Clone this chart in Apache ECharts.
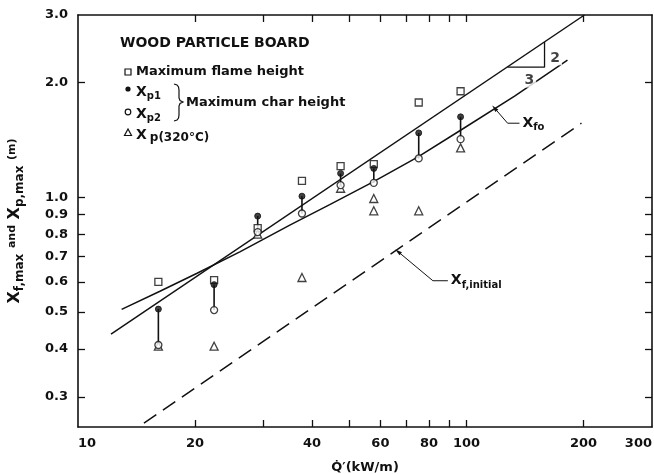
<!DOCTYPE html>
<html><head><meta charset="utf-8">
<script src="https://cdn.jsdelivr.net/npm/echarts@6/dist/echarts.min.js"></script>
<style>html,body{margin:0;padding:0;background:#fff}#c{width:654px;height:474px}</style>
</head><body><div id="c"></div>
<script>
// ---- data ----
const qValues     = [16.1, 22.4, 29.0, 37.7, 47.4, 57.7, 75.3, 96.5];
const flameHeight = [0.60, 0.606, 0.83, 1.103, 1.206, 1.22, 1.77, 1.894];
const xp1         = [0.509, 0.59, 0.892, 1.006, 1.154, 1.189, 1.473, 1.623];
const xp2         = [0.41, 0.506, 0.81, 0.906, 1.075, 1.09, 1.263, 1.419];
const x320Q       = [16.1, 22.4, 29.0, 37.7, 47.4, 57.7, 57.7, 75.3, 96.5];
const x320        = [0.407, 0.407, 0.80, 0.616, 1.055, 0.992, 0.921, 0.921, 1.346];
const fitQ        = [12.16, 201];
const fitX        = [0.438, 3.0];
const xfoQ        = [12.95, 16.25, 20.19, 26.09, 35.08, 44.44, 57.33, 74.82, 96.5, 132.9, 181.8];
const xfoX        = [0.508, 0.567, 0.631, 0.719, 0.845, 0.956, 1.095, 1.273, 1.497, 1.838, 2.284];
const initQ       = [14.78, 197.5];
const initX       = [0.256, 1.562];
const slopeQ      = [127.5, 158.7, 158.7];
const slopeX      = [2.19, 2.19, 2.55];
const xfoLeaderQ  = [118, 127.5, 136.8];
const xfoLeaderX  = [1.711, 1.562, 1.562];
const initLeaderQ = [66.6, 81.9, 89.5];
const initLeaderX = [0.72, 0.604, 0.604];
const noteQ       = [169, 145];
const noteX       = [2.31, 2.02];
const noteText    = ['2', '3'];
const xTickValues  = [20, 30, 40, 50, 60, 70, 80, 90, 100, 200];
const xLabelValues = [10, 20, 40, 60, 80, 100, 200, 300];
const yTickValues  = [0.3, 0.4, 0.5, 0.6, 0.7, 0.8, 0.9, 1.0, 2.0];
const yLabelValues = [0.3, 0.4, 0.5, 0.6, 0.7, 0.8, 0.9, 1.0, 2.0, 3.0];
const xRange = [10, 300];
const yRange = [0.25, 3.0];

const FONT = 'DejaVu Sans';
const INK = '#111';
const zip = (a, b) => a.map((v, i) => [v, b[i]]);
const lg = v => Math.log10(v);

const connectors = [];
qValues.forEach((q, i) => { connectors.push([q, xp1[i]], [q, xp2[i]], [q, '-']); });

const axisLineStyle = { onZero: false, lineStyle: { color: INK, width: 1.6 } };
const xAxisBase = { type: 'log', logBase: 10, min: xRange[0], max: xRange[1], splitLine: { show: false }, axisLine: axisLineStyle, axisTick: { show: false } };
const yAxisBase = { type: 'log', logBase: 10, min: yRange[0], max: yRange[1], splitLine: { show: false }, axisLine: axisLineStyle, axisTick: { show: false } };
// tick-only axes working in log10 space, sharing the same grid
const tickAxis = (pos, range, vals) => ({
  type: 'value', position: pos, min: lg(range[0]), max: lg(range[1]),
  axisLine: { show: false, onZero: false }, splitLine: { show: false }, axisLabel: { show: false },
  axisTick: { show: true, inside: true, length: 7, customValues: vals.map(lg), lineStyle: { color: INK, width: 1.3 } }
});

const sub = { fontFamily: FONT, fontWeight: 'bold', fontSize: 10, color: INK, padding: [9, 0, 0, 0] };
const big = { fontFamily: FONT, fontWeight: 'bold', fontSize: 14, color: INK };
const txt = (x, y, style) => ({ type: 'text', x: x, y: y, style: Object.assign({ verticalAlign: 'middle', align: 'left', fill: INK }, style) });

const chart = echarts.init(document.getElementById('c'), null, { renderer: 'canvas' });
chart.setOption({
  animation: false,
  backgroundColor: '#fff',
  grid: { left: 78, right: 2, top: 15, bottom: 47, containLabel: false, outerBoundsMode: 'none' },
  xAxis: [
    Object.assign({}, xAxisBase, {
      position: 'bottom',
      axisLabel: { show: true, customValues: xLabelValues, margin: 10, formatter: v => String(Math.round(v)),
        alignMinLabel: 'left', alignMaxLabel: 'right',
        fontFamily: FONT, fontWeight: 'bold', fontSize: 13, color: INK },
      name: 'Q\u0307\u2032(kW/m)', nameLocation: 'middle', nameGap: 34,
      nameTextStyle: { fontFamily: FONT, fontWeight: 'bold', fontSize: 13, color: INK }
    }),
    Object.assign({}, xAxisBase, { position: 'top', axisLabel: { show: false } }),
    tickAxis('bottom', xRange, xTickValues),
    tickAxis('top', xRange, xTickValues)
  ],
  yAxis: [
    Object.assign({}, yAxisBase, {
      position: 'left',
      axisLabel: { show: true, customValues: yLabelValues, margin: 10, formatter: v => v.toFixed(1),
        fontFamily: FONT, fontWeight: 'bold', fontSize: 13, color: INK },
      name: 'X{s|f,max} {a|and} X{s|p,max} {a|(m)}', nameLocation: 'middle', nameGap: 52,
      nameTextStyle: { fontFamily: FONT, fontWeight: 'bold', fontSize: 16, color: INK,
        rich: { s: Object.assign({}, sub, { fontSize: 12, padding: [10, 0, 0, 0] }),
                a: { fontFamily: FONT, fontWeight: 'bold', fontSize: 11, color: INK, padding: [0, 0, 5, 0] } } }
    }),
    Object.assign({}, yAxisBase, { position: 'right', axisLabel: { show: false } }),
    tickAxis('left', yRange, yTickValues),
    tickAxis('right', yRange, yTickValues)
  ],
  series: [
    { type: 'line', data: zip(initQ, initX), showSymbol: false, symbol: 'none',
      lineStyle: { color: INK, width: 1.5, type: [15, 8] }, z: 2 },
    { type: 'line', data: zip(fitQ, fitX), showSymbol: false, symbol: 'none',
      lineStyle: { color: INK, width: 1.5 }, z: 2 },
    { type: 'line', data: zip(xfoQ, xfoX), showSymbol: false, symbol: 'none',
      lineStyle: { color: INK, width: 1.5 }, z: 2 },
    { type: 'line', data: zip(slopeQ, slopeX), showSymbol: false, symbol: 'none',
      lineStyle: { color: INK, width: 1.3 }, z: 2 },
    { type: 'line', data: zip(xfoLeaderQ, xfoLeaderX), symbol: (v, p) => p.dataIndex === 0 ? 'triangle' : 'none',
      symbolSize: [4, 7], symbolRotate: 41, showSymbol: true, itemStyle: { color: INK },
      lineStyle: { color: INK, width: 1 }, z: 3,
      endLabel: { show: true, distance: 3, formatter: 'X{s|fo}', fontFamily: FONT, fontWeight: 'bold', fontSize: 14, color: INK,
        rich: { s: sub } } },
    { type: 'line', data: zip(initLeaderQ, initLeaderX), symbol: (v, p) => p.dataIndex === 0 ? 'triangle' : 'none',
      symbolSize: [4, 7], symbolRotate: 51, showSymbol: true, itemStyle: { color: INK },
      lineStyle: { color: INK, width: 1 }, z: 3,
      endLabel: { show: true, distance: 3, formatter: 'X{s|f,initial}', fontFamily: FONT, fontWeight: 'bold', fontSize: 14, color: INK,
        rich: { s: sub } } },
    { type: 'line', data: connectors, showSymbol: false, symbol: 'none', connectNulls: false,
      lineStyle: { color: INK, width: 1.6 }, z: 3 },
    { type: 'scatter', data: zip(qValues, flameHeight), symbol: 'rect', symbolSize: 7,
      itemStyle: { color: '#fff', borderColor: INK, borderWidth: 1.3 }, z: 5 },
    { type: 'scatter', data: zip(x320Q, x320), symbol: 'triangle', symbolSize: 8,
      itemStyle: { color: '#fff', borderColor: INK, borderWidth: 1.3 }, z: 5 },
    { type: 'scatter', data: zip(qValues, xp2), symbol: 'circle', symbolSize: 7,
      itemStyle: { color: '#fff', borderColor: INK, borderWidth: 1.3 }, z: 6 },
    { type: 'scatter', data: zip(qValues, xp1), symbol: 'circle', symbolSize: 6,
      itemStyle: { color: INK, borderColor: INK, borderWidth: 1 }, z: 6 },
    { type: 'scatter', data: noteQ.map((q, i) => ({ value: [q, noteX[i]], name: noteText[i] })), symbolSize: 0,
      label: { show: true, position: 'inside', formatter: p => p.name, fontFamily: FONT, fontWeight: 'bold', fontSize: 14, color: INK,
        backgroundColor: '#fff', padding: [0, 2] }, z: 7 }
  ],
  graphic: [
    txt(120, 43, { text: 'WOOD PARTICLE BOARD', font: 'bold 14px "DejaVu Sans"' }),
    { type: 'rect', shape: { x: 125, y: 69, width: 6, height: 6 }, style: { fill: '#fff', stroke: INK, lineWidth: 1.2 } },
    txt(136, 72, { text: 'Maximum flame height', font: 'bold 13px "DejaVu Sans"' }),
    { type: 'circle', shape: { cx: 128, cy: 89, r: 2.6 }, style: { fill: INK } },
    txt(136, 92, { rich: { b: big, s: sub }, text: '{b|X}{s|p1}' }),
    { type: 'circle', shape: { cx: 128, cy: 112, r: 2.8 }, style: { fill: '#fff', stroke: INK, lineWidth: 1.2 } },
    txt(136, 114, { rich: { b: big, s: sub }, text: '{b|X}{s|p2}' }),
    { type: 'polyline', shape: { points: [[174, 84], [177, 85], [178.5, 87], [179, 90], [179, 98], [180, 100.5], [183, 102], [180, 103.5], [179, 106], [179, 115], [178.5, 118], [177, 120], [174, 121]] },
      style: { fill: null, stroke: INK, lineWidth: 1.2 } },
    txt(186, 103, { text: 'Maximum char height', font: 'bold 13px "DejaVu Sans"' }),
    { type: 'polygon', shape: { points: [[128, 129], [124.5, 135.5], [131.5, 135.5]] }, style: { fill: '#fff', stroke: INK, lineWidth: 1.2 } },
    txt(136, 135, { rich: { b: big, s: Object.assign({}, sub, { fontSize: 12, padding: [6, 0, 0, 3] }) }, text: '{b|X}{s|p(320°C)}' })
  ]
});
</script></body></html>
